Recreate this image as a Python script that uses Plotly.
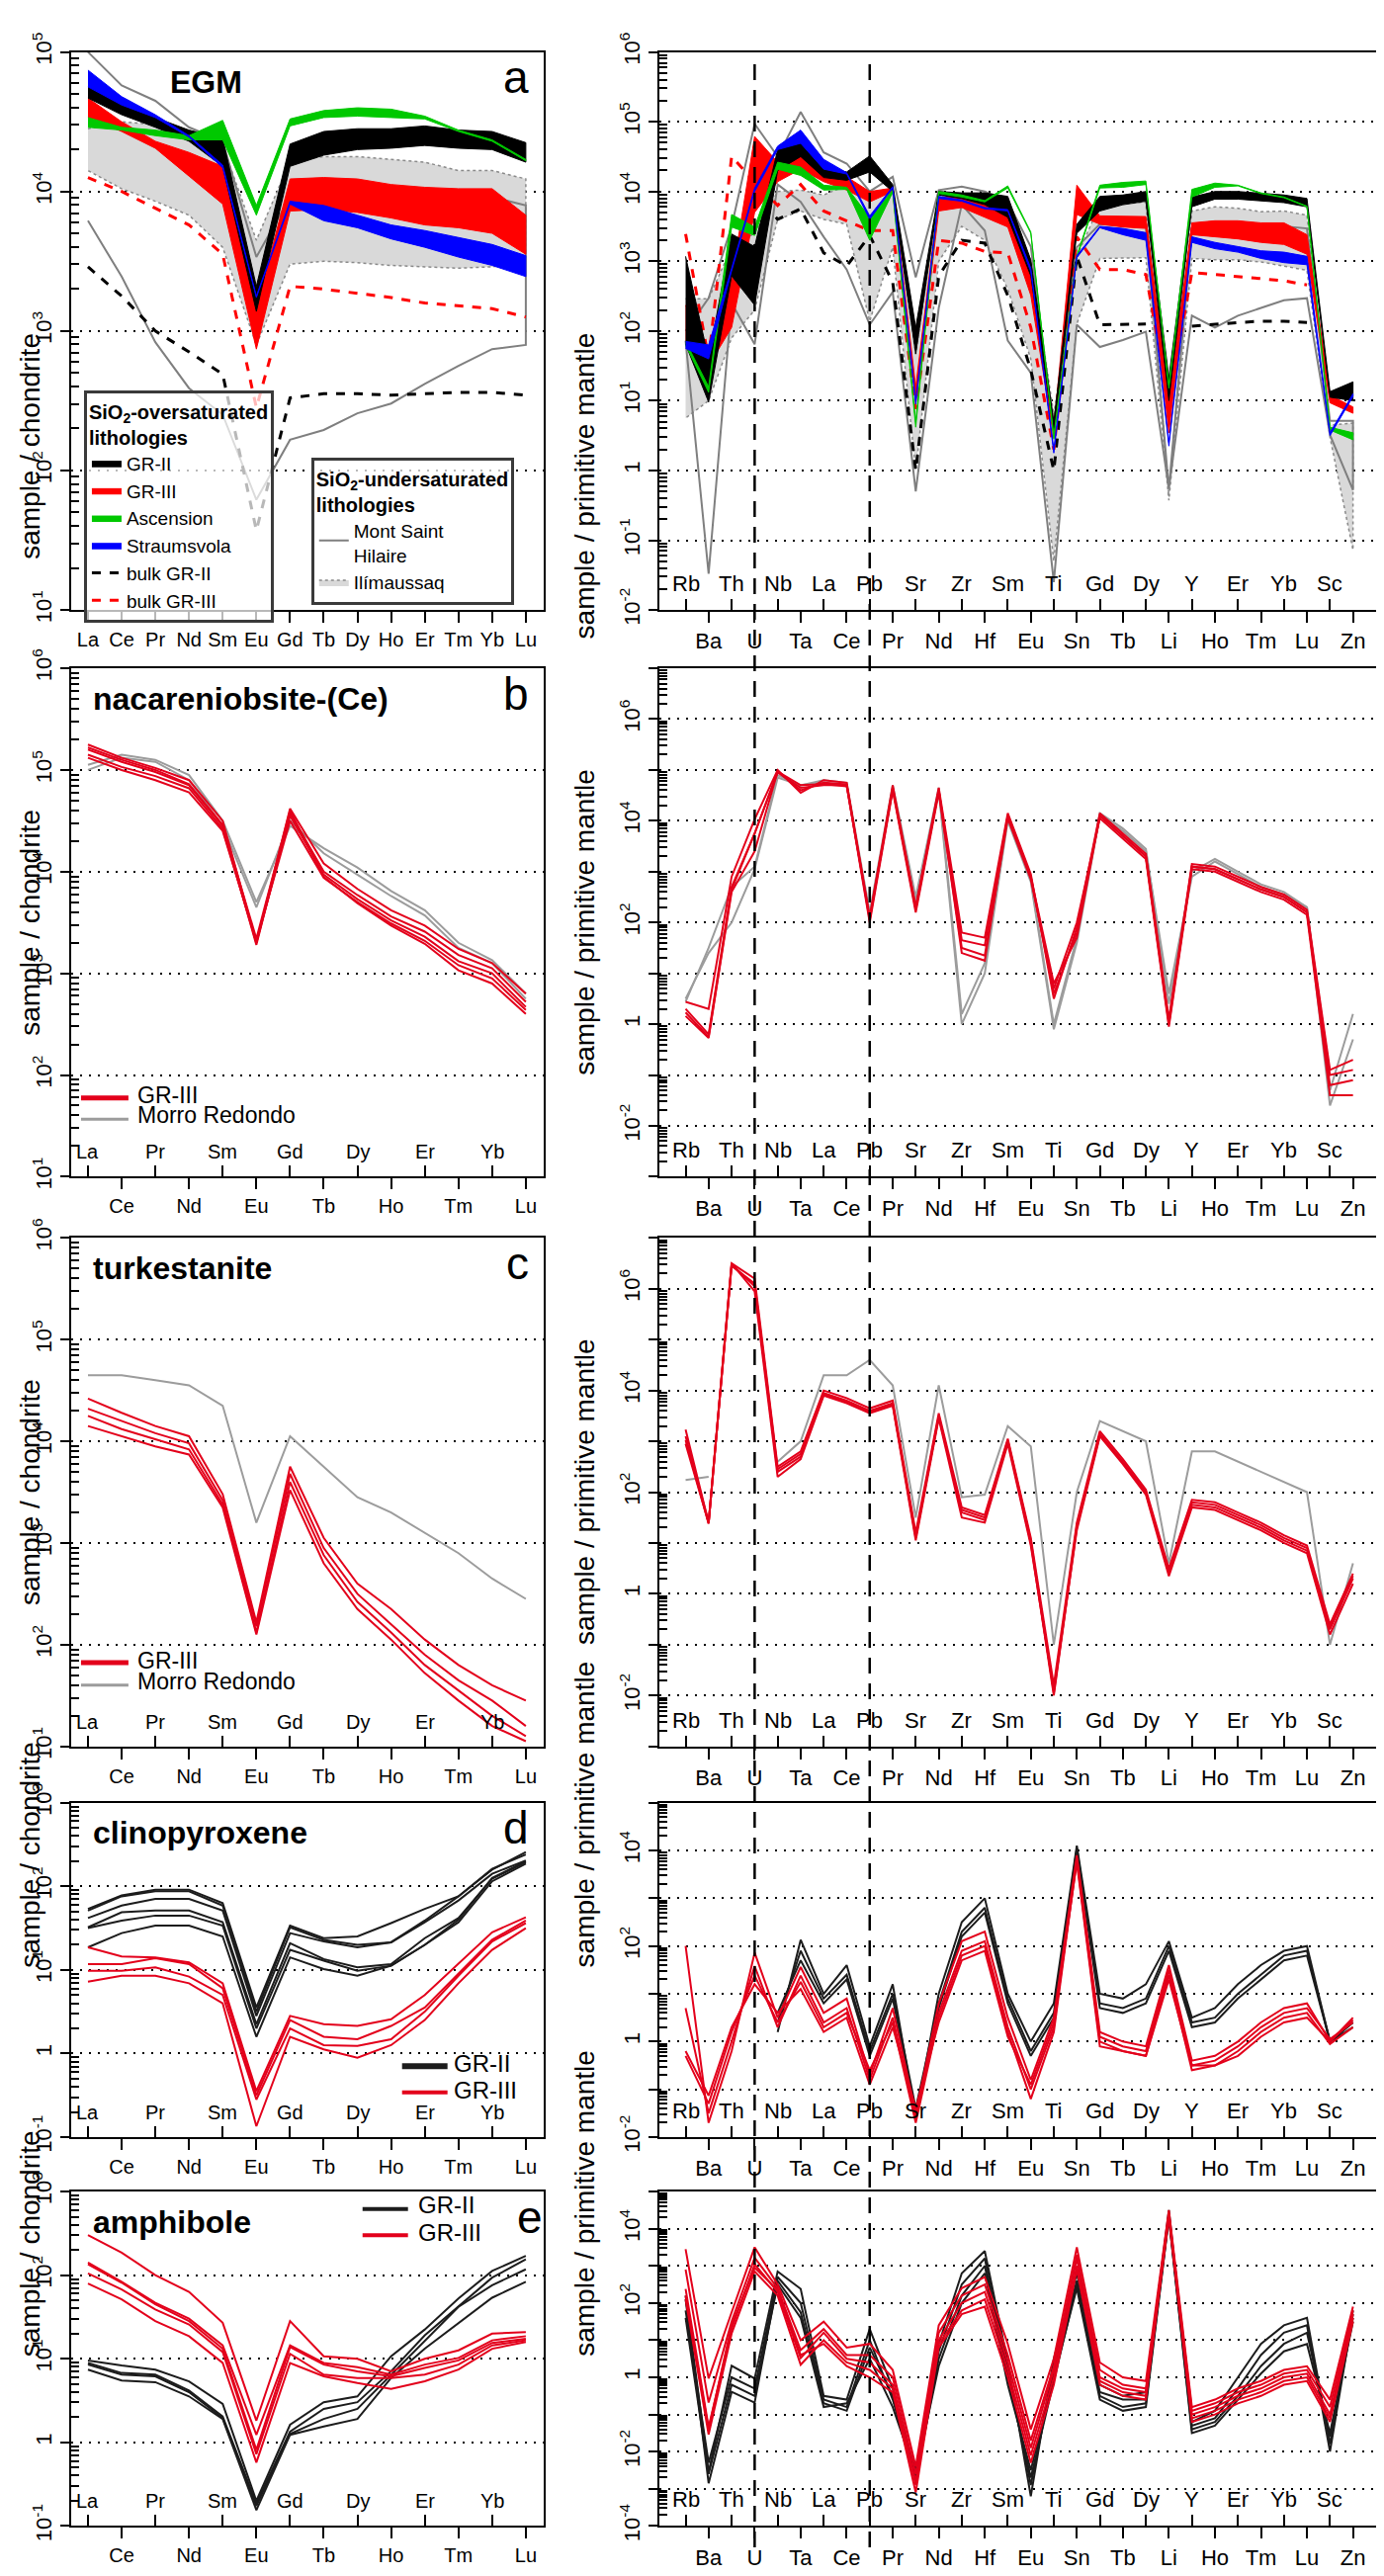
import math
import plotly.graph_objects as go

REE = ["La", "Ce", "Pr", "Nd", "Sm", "Eu", "Gd", "Tb", "Dy", "Ho", "Er", "Tm", "Yb", "Lu"]
SPIDER = ["Rb", "Ba", "Th", "U", "Nb", "Ta", "La", "Ce", "Pb", "Pr", "Sr", "Nd", "Zr", "Hf", "Sm",
          "Eu", "Ti", "Sn", "Gd", "Tb", "Dy", "Li", "Y", "Ho", "Er", "Tm", "Yb", "Lu", "Sc", "Zn"]

# all values below are log10(sample / reference)

# ---- a: EGM, chondrite normalised (upper / lower edge of each field) ----
A_REE_GR2_HI = [4.75, 4.65, 4.53, 4.44, 4.38, 3.32, 4.34, 4.43, 4.45, 4.45, 4.47, 4.44, 4.43, 4.35]
A_REE_GR2_LO = [4.67, 4.55, 4.46, 4.36, 4.18, 3.14, 4.18, 4.26, 4.30, 4.31, 4.33, 4.31, 4.30, 4.21]
A_REE_GR3_HI = [4.67, 4.50, 4.36, 4.28, 4.18, 3.16, 4.09, 4.10, 4.09, 4.05, 4.03, 4.02, 4.02, 3.83]
A_REE_GR3_LO = [4.53, 4.43, 4.31, 4.11, 3.91, 2.87, 3.86, 3.87, 3.85, 3.81, 3.76, 3.74, 3.70, 3.55]
A_REE_ASC_HI = [4.53, 4.46, 4.44, 4.40, 4.51, 3.90, 4.52, 4.58, 4.60, 4.59, 4.54, 4.44, 4.37, 4.23]
A_REE_ASC_LO = [4.46, 4.44, 4.40, 4.37, 4.37, 3.83, 4.47, 4.53, 4.54, 4.53, 4.52, 4.43, 4.36, 4.22]
A_REE_STR_HI = [4.87, 4.68, 4.55, 4.40, 4.19, 3.25, 3.93, 3.90, 3.83, 3.76, 3.72, 3.67, 3.62, 3.54]
A_REE_STR_LO = [4.75, 4.62, 4.53, 4.39, 4.17, 3.24, 3.91, 3.79, 3.74, 3.66, 3.60, 3.53, 3.47, 3.39]
A_REE_MSH_HI = [5.00, 4.76, 4.65, 4.46, 4.36, 3.53, 3.96, 3.96, 3.94, 3.90, 3.94, 3.95, 3.96, 3.90]
A_REE_MSH_LO = [3.79, 3.39, 2.92, 2.59, 2.40, 1.79, 2.22, 2.29, 2.41, 2.48, 2.62, 2.75, 2.87, 2.90]
A_REE_ILI_HI = [4.45, 4.50, 4.48, 4.42, 4.33, 3.65, 4.22, 4.25, 4.25, 4.23, 4.21, 4.15, 4.15, 4.09]
A_REE_ILI_LO = [4.15, 4.02, 3.93, 3.83, 3.60, 2.90, 3.48, 3.50, 3.49, 3.47, 3.46, 3.45, 3.46, 3.50]
A_REE_BULK2 = [3.46, 3.25, 3.00, 2.85, 2.69, 1.57, 2.52, 2.55, 2.55, 2.54, 2.55, 2.56, 2.56, 2.54]
A_REE_BULK3 = [4.10, 4.00, 3.88, 3.76, 3.55, 2.45, 3.32, 3.30, 3.27, 3.24, 3.20, 3.18, 3.16, 3.10]

# ---- a: EGM, primitive mantle normalised ----
A_SP_GR2_HI = [3.07, 1.60, 3.39, 3.21, 4.60, 4.72, 4.35, 4.28, 4.51, 4.10, 2.05, 4.00, 3.98, 3.98, 3.93,
               3.02, 0.70, 3.53, 3.93, 3.95, 4.00, 1.33, 3.92, 4.00, 4.00, 3.97, 3.95, 3.90, 1.13, 1.27]
A_SP_GR2_LO = [1.81, 0.98, 2.79, 2.37, 4.30, 4.50, 4.20, 4.16, 4.28, 4.00, 1.67, 3.95, 3.90, 3.81, 3.63,
               2.79, 0.56, 3.40, 3.72, 3.81, 3.86, 1.00, 3.78, 3.89, 3.89, 3.86, 3.84, 3.78, 1.05, 1.00]
A_SP_GR3_HI = [2.37, 1.72, 2.74, 4.79, 4.42, 4.67, 4.32, 4.21, 4.00, 4.05, 1.20, 3.91, 3.93, 3.81, 3.77,
               2.79, 0.60, 4.09, 3.65, 3.64, 3.64, 1.00, 3.55, 3.58, 3.58, 3.55, 3.55, 3.38, 1.08, 0.91]
A_SP_GR3_LO = [1.81, 1.50, 2.05, 3.70, 4.14, 4.32, 4.14, 4.02, 3.85, 4.00, 0.95, 3.72, 3.77, 3.63, 3.49,
               2.51, 0.47, 3.67, 3.53, 3.49, 3.47, 0.54, 3.38, 3.35, 3.32, 3.27, 3.24, 3.10, 0.97, 0.82]
A_SP_ASC_HI = [1.85, 1.20, 3.67, 3.49, 4.42, 4.35, 4.09, 4.06, 3.63, 4.02, 0.70, 4.00, 3.95, 3.87, 4.08,
               3.42, 0.50, 3.08, 4.09, 4.13, 4.15, 1.22, 4.03, 4.12, 4.09, 3.98, 3.92, 3.79, 0.62, 0.54]
A_SP_ASC_LO = [1.80, 1.12, 3.49, 3.37, 4.32, 4.23, 4.02, 4.03, 3.30, 3.99, 0.62, 3.97, 3.92, 3.85, 4.05,
               3.40, 0.45, 3.05, 4.05, 4.06, 4.10, 1.18, 3.92, 4.06, 4.08, 3.97, 3.91, 3.78, 0.58, 0.44]
A_SP_STR_HI = [1.85, 1.80, 2.90, 4.05, 4.65, 4.88, 4.46, 4.27, 3.65, 4.07, 1.00, 3.93, 3.88, 3.77, 3.74,
               2.90, 0.30, 3.08, 3.50, 3.47, 3.41, 0.40, 3.35, 3.27, 3.21, 3.15, 3.13, 3.07, 0.54, 1.10]
A_SP_STR_LO = [1.75, 1.60, 2.86, 4.00, 4.60, 4.69, 4.32, 4.25, 3.60, 4.05, 0.95, 3.90, 3.86, 3.75, 3.72,
               2.85, 0.25, 3.05, 3.48, 3.38, 3.30, 0.35, 3.27, 3.18, 3.13, 3.04, 2.98, 2.95, 0.50, 1.06]
A_SP_MSH_HI = [2.00, 2.47, 3.50, 4.97, 4.50, 5.14, 4.56, 4.40, 4.00, 4.21, 2.77, 4.02, 4.07, 4.00, 3.85,
               3.21, 0.60, 3.20, 3.53, 3.51, 3.49, -0.26, 3.44, 3.47, 3.50, 3.50, 3.50, 3.47, 0.71, 0.71]
A_SP_MSH_LO = [1.86, -1.48, 2.40, 1.81, 4.10, 3.85, 3.35, 2.88, 2.09, 2.56, -0.30, 2.33, 3.81, 3.44, 1.86,
               1.40, -1.60, 2.09, 1.77, 1.87, 1.99, -0.26, 2.22, 2.05, 2.22, 2.33, 2.44, 2.47, 0.51, -0.28]
A_SP_ILI_HI = [2.46, 2.46, 3.20, 3.40, 4.00, 4.02, 3.95, 4.09, 3.90, 4.00, 1.67, 3.95, 3.81, 3.75, 3.60,
               3.00, 0.80, 3.07, 3.81, 3.82, 3.85, -0.37, 3.72, 3.78, 3.76, 3.71, 3.72, 3.66, 0.65, 0.68]
A_SP_ILI_LO = [0.75, 1.00, 1.90, 2.30, 3.60, 3.72, 3.60, 3.53, 2.14, 3.20, 0.00, 3.00, 3.50, 3.30, 2.60,
               1.60, -1.30, 2.10, 3.04, 3.05, 3.05, -0.43, 3.04, 3.02, 3.02, 2.99, 2.93, 2.87, 0.48, -1.14]
A_SP_BULK2 = [None, None, 3.00, 4.00, 3.60, 3.75, 3.12, 2.93, 3.37, 2.70, 0.00, 2.79, 3.30, 3.26, 2.51,
              1.44, 0.00, 3.07, 2.09, 2.10, 2.10, None, 2.07, 2.10, 2.12, 2.14, 2.14, 2.12, None, None]
A_SP_BULK3 = [3.39, 1.60, 4.50, 4.14, 3.80, 4.10, 3.72, 3.58, 3.44, 3.44, 0.88, 3.30, 3.26, 3.14, 3.12,
              2.05, 0.30, 3.35, 2.88, 2.88, 2.81, 1.00, 2.84, 2.81, 2.78, 2.75, 2.72, 2.66, None, None]

# ---- b: nacareniobsite-(Ce) ----
B_REE_GR3 = [
    [5.25, 5.12, 5.02, 4.90, 4.50, 3.30, 4.62, 4.08, 3.83, 3.62, 3.47, 3.24, 3.10, 2.80],
    [5.20, 5.08, 4.98, 4.85, 4.45, 3.28, 4.58, 4.00, 3.77, 3.56, 3.41, 3.18, 3.05, 2.72],
    [5.15, 5.03, 4.94, 4.82, 4.42, 3.30, 4.55, 3.97, 3.73, 3.52, 3.36, 3.12, 3.00, 2.67],
    [5.12, 5.00, 4.90, 4.78, 4.40, 3.32, 4.50, 3.94, 3.70, 3.49, 3.32, 3.08, 2.95, 2.64],
    [5.22, 5.10, 5.00, 4.86, 4.46, 3.34, 4.60, 3.95, 3.69, 3.47, 3.29, 3.03, 2.90, 2.60],
]
B_REE_MR = [
    [5.05, 5.15, 5.10, 4.95, 4.50, 3.70, 4.45, 4.23, 4.04, 3.81, 3.62, 3.30, 3.13, 2.80],
    [5.00, 5.12, 5.08, 4.90, 4.45, 3.65, 4.50, 4.18, 3.97, 3.76, 3.57, 3.25, 3.10, 2.75],
]
B_SP_GR3 = [
    [0.44, 0.30, 2.90, 4.03, 5.00, 4.55, 4.80, 4.75, 2.10, 4.70, 2.30, 4.65, 1.80, 1.70, 4.15,
     2.95, 0.50, 1.90, 4.15, 3.75, 3.35, 0.10, 3.15, 3.10, 2.90, 2.70, 2.55, 2.25, -0.90, -0.70],
    [0.30, -0.20, 2.70, 3.75, 4.97, 4.60, 4.75, 4.72, 2.05, 4.65, 2.25, 4.60, 1.65, 1.55, 4.10,
     2.90, 0.60, 1.80, 4.10, 3.70, 3.30, 0.00, 3.10, 3.05, 2.85, 2.65, 2.50, 2.20, -1.20, -1.10],
    [0.23, -0.25, 2.65, 3.75, 4.95, 4.65, 4.70, 4.70, 2.00, 4.60, 2.20, 4.55, 1.50, 1.35, 4.05,
     2.85, 0.70, 2.00, 4.05, 3.65, 3.25, -0.05, 3.05, 3.00, 2.80, 2.60, 2.45, 2.15, -1.40, -1.40],
    [0.16, -0.27, 2.60, 3.40, 4.97, 4.70, 4.72, 4.68, 2.10, 4.62, 2.30, 4.60, 1.40, 1.25, 4.10,
     2.90, 0.80, 1.70, 4.10, 3.70, 3.30, 0.05, 3.10, 3.05, 2.85, 2.65, 2.50, 2.20, -1.00, -0.90],
]
B_SP_MR = [
    [0.44, 1.50, 2.70, 3.10, 4.90, 4.70, 4.75, 4.70, 2.10, 4.65, 2.40, 4.60, 0.00, 1.00, 4.00,
     2.80, -0.10, 1.60, 4.10, 3.80, 3.40, 0.60, 2.90, 3.20, 2.95, 2.70, 2.55, 2.30, -1.30, 0.20],
    [0.50, 1.40, 2.00, 3.05, 4.85, 4.70, 4.80, 4.75, 2.20, 4.70, 2.50, 4.65, 0.20, 1.20, 4.05,
     2.85, 0.00, 1.70, 4.15, 3.85, 3.45, 0.40, 3.00, 3.25, 3.00, 2.75, 2.60, 2.30, -1.60, -0.30],
]

# ---- c: turkestanite ----
C_REE_GR3 = [
    [4.42, 4.28, 4.15, 4.05, 3.48, 2.22, 3.75, 3.05, 2.60, 2.35, 2.05, 1.80, 1.60, 1.45],
    [4.32, 4.20, 4.08, 3.98, 3.42, 2.18, 3.68, 2.95, 2.50, 2.20, 1.90, 1.65, 1.45, 1.20],
    [4.25, 4.12, 4.02, 3.92, 3.38, 2.12, 3.60, 2.88, 2.42, 2.12, 1.80, 1.55, 1.30, 1.10],
    [4.15, 4.05, 3.95, 3.87, 3.35, 2.10, 3.52, 2.80, 2.35, 2.05, 1.72, 1.45, 1.20, 1.05],
]
C_REE_MR = [4.65, 4.65, 4.60, 4.55, 4.35, 3.20, 4.05, 3.75, 3.45, 3.30, 3.10, 2.90, 2.65, 2.45]
C_SP_GR3 = [
    [3.23, 1.40, 6.50, 6.20, 2.50, 2.80, 4.00, 3.85, 3.65, 3.80, 1.20, 3.55, 1.70, 1.55, 3.05,
     1.10, -1.80, 1.40, 3.20, 2.65, 2.05, 0.50, 1.85, 1.80, 1.60, 1.40, 1.15, 0.95, -0.60, 0.40],
    [3.02, 1.38, 6.48, 6.05, 2.40, 2.70, 3.95, 3.80, 3.60, 3.75, 1.10, 3.50, 1.60, 1.45, 3.00,
     1.00, -2.00, 1.30, 3.15, 2.60, 2.00, 0.40, 1.80, 1.75, 1.55, 1.35, 1.10, 0.90, -0.70, 0.30],
    [2.95, 1.39, 6.50, 5.95, 2.30, 2.65, 3.90, 3.75, 3.55, 3.70, 1.05, 3.45, 1.50, 1.40, 2.95,
     0.95, -1.90, 1.25, 3.10, 2.55, 1.95, 0.35, 1.70, 1.65, 1.45, 1.25, 1.00, 0.80, -0.80, 0.20],
    [3.10, 1.40, 6.45, 6.10, 2.45, 2.75, 3.92, 3.78, 3.58, 3.72, 1.15, 3.48, 1.65, 1.50, 3.02,
     1.05, -1.95, 1.35, 3.12, 2.58, 1.98, 0.45, 1.75, 1.70, 1.50, 1.30, 1.05, 0.85, -0.65, 0.35],
]
C_SP_MR = [2.24, 2.30, None, None, 2.60, 3.00, 4.30, 4.30, 4.60, 4.10, 1.50, 4.10, 1.90, 1.95, 3.30,
           2.90, -1.00, 2.00, 3.40, 3.20, 3.00, 0.60, 2.80, 2.80, 2.60, 2.40, 2.20, 2.00, -1.00, 0.60]

# ---- d: clinopyroxene ----
D_REE_GR2 = [
    [1.73, 1.89, 1.96, 1.96, 1.80, 0.55, 1.53, 1.38, 1.40, 1.56, 1.73, 1.88, 2.20, 2.41],
    [1.71, 1.88, 1.94, 1.94, 1.77, 0.50, 1.51, 1.36, 1.30, 1.33, 1.59, 1.88, 2.21, 2.38],
    [1.62, 1.77, 1.85, 1.85, 1.71, 0.45, 1.44, 1.34, 1.27, 1.33, 1.57, 1.83, 2.15, 2.31],
    [1.51, 1.69, 1.71, 1.71, 1.57, 0.35, 1.32, 1.13, 1.03, 1.07, 1.38, 1.62, 2.09, 2.29],
    [1.50, 1.59, 1.65, 1.65, 1.53, 0.30, 1.24, 1.11, 0.99, 1.05, 1.30, 1.57, 2.06, 2.27],
    [1.27, 1.44, 1.53, 1.53, 1.40, 0.20, 1.15, 1.01, 0.93, 1.05, 1.30, 1.60, 2.10, 2.30],
]
D_REE_GR3 = [
    [1.27, 1.16, 1.15, 1.09, 0.84, -0.45, 0.45, 0.35, 0.33, 0.41, 0.70, 1.07, 1.45, 1.63],
    [1.07, 1.07, 1.14, 1.07, 0.78, -0.50, 0.40, 0.20, 0.17, 0.33, 0.55, 0.95, 1.36, 1.59],
    [0.99, 0.99, 1.03, 0.92, 0.70, -0.55, 0.30, 0.10, 0.09, 0.17, 0.50, 0.93, 1.34, 1.56],
    [0.86, 0.93, 0.93, 0.84, 0.60, -0.87, 0.20, 0.05, -0.05, 0.10, 0.40, 0.84, 1.24, 1.50],
]
D_SP_GR2 = [
    [None, None, None, None, 0.20, 2.13, 1.00, 1.60, -0.10, 1.20, -1.60, 1.00, 2.50, 3.00, 1.00,
     0.00, 0.80, 4.10, 1.00, 0.90, 1.20, 2.10, 0.50, 0.70, 1.20, 1.60, 1.90, 2.00, 0.00, 0.40],
    [None, None, None, None, 0.40, 1.90, 0.90, 1.40, -0.20, 1.00, -1.40, 0.80, 2.30, 2.80, 0.90,
     -0.20, 0.60, 4.05, 0.80, 0.70, 0.90, 2.00, 0.40, 0.50, 1.00, 1.40, 1.80, 1.90, 0.00, 0.30],
    [None, None, None, None, 0.60, 1.70, 0.80, 1.30, -0.30, 0.90, -1.50, 0.70, 2.20, 2.70, 0.80,
     -0.30, 0.50, 4.00, 0.70, 0.60, 0.80, 1.90, 0.30, 0.40, 0.90, 1.30, 1.70, 1.80, 0.00, 0.40],
]
D_SP_GR3 = [
    [2.00, -1.70, -0.20, 1.86, 0.50, 1.56, 0.60, 0.90, -0.70, 0.70, -1.50, 0.80, 2.10, 2.30, 0.50,
     -0.80, 0.50, 3.90, 0.20, 0.00, -0.10, 1.60, -0.40, -0.30, 0.00, 0.40, 0.70, 0.80, 0.00, 0.50],
    [0.70, -1.50, 0.00, 1.58, 0.30, 1.38, 0.40, 0.70, -0.80, 0.50, -1.60, 0.60, 1.90, 2.10, 0.30,
     -1.00, 0.30, 3.85, 0.10, -0.10, -0.20, 1.50, -0.50, -0.40, -0.10, 0.30, 0.60, 0.70, 0.05, 0.40],
    [-0.30, -1.30, 0.20, 1.38, 0.40, 1.25, 0.30, 0.60, -0.60, 0.40, -1.70, 0.50, 1.80, 2.00, 0.20,
     -1.20, 0.20, 3.80, 0.00, -0.20, -0.30, 1.40, -0.60, -0.50, -0.20, 0.20, 0.50, 0.60, -0.05, 0.30],
    [-0.20, -1.13, 0.30, 1.20, 0.60, 1.10, 0.20, 0.50, -0.90, 0.30, -1.40, 0.40, 1.70, 1.90, 0.10,
     -0.90, 0.40, 3.75, -0.10, -0.20, -0.30, 1.30, -0.50, -0.50, -0.30, 0.10, 0.40, 0.50, 0.00, 0.45],
]

# ---- e: amphibole ----
E_REE_GR2 = [
    [0.98, 0.92, 0.87, 0.73, 0.46, -0.70, 0.21, 0.48, 0.55, 1.03, 1.35, 1.72, 2.05, 2.23],
    [0.95, 0.83, 0.81, 0.62, 0.31, -0.73, 0.13, 0.40, 0.48, 0.85, 1.28, 1.62, 1.97, 2.19],
    [0.93, 0.81, 0.79, 0.60, 0.29, -0.76, 0.10, 0.28, 0.40, 0.81, 1.22, 1.62, 1.88, 2.07],
    [0.87, 0.74, 0.72, 0.55, 0.28, -0.81, 0.09, 0.19, 0.28, 0.77, 1.12, 1.43, 1.73, 1.92],
]
E_REE_GR3 = [
    [2.48, 2.27, 2.00, 1.80, 1.43, 0.26, 1.45, 1.03, 1.00, 0.85, 1.00, 1.10, 1.30, 1.32],
    [2.15, 1.92, 1.67, 1.48, 1.16, 0.09, 1.16, 0.95, 0.90, 0.81, 0.93, 1.01, 1.22, 1.27],
    [2.13, 1.91, 1.65, 1.45, 1.12, -0.09, 1.14, 0.93, 0.85, 0.79, 0.89, 0.98, 1.19, 1.24],
    [2.02, 1.83, 1.59, 1.41, 1.08, -0.14, 1.06, 0.81, 0.77, 0.77, 0.81, 0.93, 1.16, 1.22],
    [1.90, 1.71, 1.45, 1.27, 0.95, -0.24, 0.95, 0.79, 0.71, 0.64, 0.73, 0.87, 1.12, 1.20],
]
E_SP_GR2 = [
    [2.20, -2.55, 0.31, -0.03, 2.85, 2.38, -0.50, -0.60, 1.30, -0.30, -2.70, 0.90, 2.80, 3.40, 0.40,
     -3.20, 0.50, 2.80, -0.20, -0.50, -0.40, 4.50, -1.20, -0.90, 0.00, 0.90, 1.40, 1.60, -1.80, 1.80],
    [2.10, -2.85, -0.39, -0.68, 2.60, 1.75, -0.70, -0.90, 0.80, -0.50, -2.50, 0.70, 2.50, 3.20, 0.20,
     -2.90, 0.20, 2.60, -0.40, -0.60, -0.60, 4.40, -1.30, -1.10, -0.30, 0.60, 1.20, 1.40, -2.00, 1.70],
    [1.80, -2.30, 0.00, -0.30, 2.70, 2.00, -0.60, -0.80, 1.00, -0.60, -2.80, 0.50, 2.20, 3.00, 0.00,
     -2.70, -0.10, 2.50, -0.50, -0.80, -0.70, 4.30, -1.40, -1.20, -0.50, 0.30, 0.90, 1.20, -1.60, 1.60],
    [1.60, -2.60, -0.20, -0.50, 2.50, 1.60, -0.80, -0.70, 0.50, -0.80, -2.60, 0.30, 2.00, 2.80, -0.20,
     -2.50, 0.00, 2.40, -0.60, -0.90, -0.80, 4.30, -1.50, -1.30, -0.60, 0.10, 0.70, 0.90, -1.50, 1.50],
]
E_SP_GR3 = [
    [3.45, -0.03, 1.75, 3.50, 2.50, 1.00, 1.50, 0.80, 0.90, 0.20, -2.40, 1.40, 2.40, 2.70, 0.90,
     -1.40, 0.50, 3.50, 0.40, 0.00, -0.10, 4.50, -0.80, -0.60, -0.30, -0.10, 0.20, 0.30, -0.60, 1.90],
    [2.90, -0.68, 1.50, 3.22, 2.40, 0.73, 1.30, 0.60, 0.60, 0.00, -2.60, 1.20, 2.20, 2.50, 0.60,
     -1.70, 0.30, 3.30, 0.20, -0.20, -0.30, 4.40, -0.90, -0.70, -0.40, -0.20, 0.10, 0.20, -0.80, 1.80],
    [2.38, -1.34, 1.30, 3.04, 2.30, 0.52, 1.20, 0.50, 0.40, -0.20, -2.80, 1.00, 2.00, 2.30, 0.40,
     -1.90, 0.20, 3.20, 0.00, -0.30, -0.40, 4.30, -1.00, -0.80, -0.50, -0.30, 0.00, 0.10, -1.00, 1.70],
    [2.10, -1.54, 1.18, 2.85, 2.20, 0.34, 1.00, 0.40, 0.20, -0.30, -2.90, 0.90, 1.80, 2.10, 0.20,
     -2.10, 0.00, 3.00, -0.10, -0.40, -0.50, 4.35, -1.10, -0.90, -0.60, -0.40, -0.10, 0.00, -1.10, 1.60],
    [2.20, -1.40, 1.40, 2.95, 2.35, 0.60, 0.90, 0.30, 0.00, -0.40, -3.10, 0.80, 1.70, 1.90, 0.00,
     -2.30, -0.20, 2.90, -0.20, -0.50, -0.60, 4.40, -1.20, -1.00, -0.70, -0.50, -0.20, -0.10, -1.20, 1.50],
]

# ---------------- layout geometry (reference pixels) ----------------
W, H, OFF = 1388, 2592, 8
ROW_TOP = [33, 667, 1253, 1834, 2234]
ROW_BOT = [607, 1190, 1776, 2178, 2578]
COL_X = [(72, 550), (667, 1395)]
LEFT_YR = [(1, 5), (1, 6), (1, 6), (-1, 3), (-1, 3)]
RIGHT_YR = [(-2, 6), (-3, 7), (-3, 7), (-2, 5), (-4, 5)]
X_RANGE = [(-0.5, 13.52), (-1.16, 30.09)]
TITLES = ["EGM", "nacareniobsite-(Ce)", "turkestanite", "clinopyroxene", "amphibole"]
LETTERS = ["a", "b", "c", "d", "e"]
# manual keys: (row, [(label, colour, width, line y, text y)], line x0, line x1, text x, font)
KEYS = [
    (1, [("GR-III", "#e3001b", 5, 1109, 1106), ("Morro Redondo", "#9c9c9c", 3, 1131, 1127)], 82, 130, 137, 23),
    (2, [("GR-III", "#e3001b", 5, 1690, 1688), ("Morro Redondo", "#9c9c9c", 3, 1713, 1709)], 82, 130, 137, 23),
    (3, [("GR-II", "#1c1c1c", 6, 2105, 2102), ("GR-III", "#e3001b", 4, 2132, 2130)], 407, 453, 457, 24),
    (4, [("GR-II", "#1c1c1c", 4, 2252, 2248), ("GR-III", "#e3001b", 4, 2279, 2276)], 367, 413, 421, 24),
]

FONT = "Liberation Sans, Arial, sans-serif"
RED_A, GREEN, BLUE = "#ff0000", "#00c800", "#0000ff"
GREY_FILL, GREY_LINE = "#d9d9d9", "#7f7f7f"
RED, DARK, GREY = "#e3001b", "#1c1c1c", "#9c9c9c"


def px(x):
    return min(1.0, max(0.0, (x - OFF) / W))


def py(y):
    return 1 - (y - OFF) / H


def ax(k):
    return ("x" if k == 1 else f"x{k}"), ("y" if k == 1 else f"y{k}")


def lin(vals):
    return [None if v is None else 10 ** v for v in vals]


fig = go.Figure()


def add_band(k, hi, lo, fill, line, name, legend=None, rank=1000, dash=None, lw=1):
    xn, yn = ax(k)
    idx = list(range(len(hi)))
    fig.add_trace(go.Scatter(
        x=idx + idx[::-1], y=lin(hi) + lin(lo)[::-1], fill="toself", fillcolor=fill,
        mode="lines", line=dict(color=line, width=lw, dash=dash), name=name,
        showlegend=legend is not None, legend=legend or "legend", legendrank=rank,
        xaxis=xn, yaxis=yn, hoverinfo="skip"))


def add_line(k, vals, color, width, name="", dash=None, legend=None, rank=1000):
    xn, yn = ax(k)
    fig.add_trace(go.Scatter(
        x=list(range(len(vals))), y=lin(vals), mode="lines",
        line=dict(color=color, width=width, dash=dash), name=name,
        showlegend=legend is not None, legend=legend or "legend", legendrank=rank,
        xaxis=xn, yaxis=yn, hoverinfo="skip"))


# ---- panel a ----
for k, d in [(1, "REE"), (2, "SP")]:
    g = globals()
    lg = (lambda name: name) if k == 1 else (lambda name: None)
    add_band(k, g[f"A_{d}_ILI_HI"], g[f"A_{d}_ILI_LO"], GREY_FILL, "#8a8a8a", "Ilímaussaq",
             legend=lg("legend2"), rank=2, dash="dot", lw=1.5)
    add_band(k, g[f"A_{d}_MSH_HI"], g[f"A_{d}_MSH_LO"], "rgba(255,255,255,0)", GREY_LINE,
             "Mont Saint<br>Hilaire", legend=lg("legend2"), rank=1, lw=2)
    add_line(k, g[f"A_{d}_BULK2"], "black", 3, "bulk GR-II", dash="dash", legend=lg("legend"), rank=5)
    add_line(k, g[f"A_{d}_BULK3"], RED_A, 3, "bulk GR-III", dash="dash", legend=lg("legend"), rank=6)
    add_band(k, g[f"A_{d}_GR3_HI"], g[f"A_{d}_GR3_LO"], RED_A, RED_A, "GR-III", legend=lg("legend"), rank=2)
    add_band(k, g[f"A_{d}_GR2_HI"], g[f"A_{d}_GR2_LO"], "black", "black", "GR-II", legend=lg("legend"), rank=1)
    add_band(k, g[f"A_{d}_ASC_HI"], g[f"A_{d}_ASC_LO"], GREEN, GREEN, "Ascension", legend=lg("legend"), rank=3)
    add_band(k, g[f"A_{d}_STR_HI"], g[f"A_{d}_STR_LO"], BLUE, BLUE, "Straumsvola", legend=lg("legend"), rank=4)

# ---- panels b - e ----
for v in B_REE_MR:
    add_line(3, v, GREY, 2)
for v in B_REE_GR3:
    add_line(3, v, RED, 2)
for v in B_SP_MR:
    add_line(4, v, GREY, 2)
for v in B_SP_GR3:
    add_line(4, v, RED, 2)

add_line(5, C_REE_MR, GREY, 2)
for v in C_REE_GR3:
    add_line(5, v, RED, 2)
add_line(6, C_SP_MR, GREY, 2)
for v in C_SP_GR3:
    add_line(6, v, RED, 2)

for v in D_REE_GR2:
    add_line(7, v, DARK, 2)
for v in D_REE_GR3:
    add_line(7, v, RED, 2)
for v in D_SP_GR2:
    add_line(8, v, DARK, 2)
for v in D_SP_GR3:
    add_line(8, v, RED, 2)

for v in E_REE_GR2:
    add_line(9, v, DARK, 2)
for v in E_REE_GR3:
    add_line(9, v, RED, 2)
for v in E_SP_GR2:
    add_line(10, v, DARK, 2)
for v in E_SP_GR3:
    add_line(10, v, RED, 2)

# ---------------- axes, labels, shapes ----------------
layout = {}
annotations = []
shapes = []
for row in range(5):
    top, bot = ROW_TOP[row], ROW_BOT[row]
    for col in range(2):
        k = 2 * row + col + 1
        xn, yn = ax(k)
        labels = REE if col == 0 else SPIDER
        xfont = 20 if col == 0 else 22
        lo, hi = (LEFT_YR if col == 0 else RIGHT_YR)[row]
        decs = list(range(math.ceil(lo), math.floor(hi) + 1))
        every_other = col == 1 and row > 0

        def dec_label(d):
            if every_other and d % 2:
                return ""
            return "1" if d == 0 else f"10<sup>{d}</sup>"

        minor_vals = [m * 10 ** d for d in range(math.floor(lo), math.ceil(hi))
                      for m in range(2, 10) if lo <= math.log10(m * 10 ** d) <= hi]
        if row == 0 and col == 0:
            lower, upper = list(range(len(labels))), []
        else:
            lower = list(range(1, len(labels), 2))
            upper = list(range(0, len(labels), 2))
        x0, x1 = COL_X[col]
        xaxis = dict(
            range=list(X_RANGE[col]), domain=[px(x0), px(x1)], anchor=yn,
            tickmode="array", tickvals=lower, ticktext=[labels[i] for i in lower],
            ticks="outside", ticklen=11, tickwidth=2, tickcolor="black",
            showline=True, linewidth=2, linecolor="black", mirror=True,
            showgrid=False, zeroline=False, tickfont=dict(size=xfont, color="black"))
        if upper:
            xaxis["minor"] = dict(tickmode="array", tickvals=upper, ticks="inside",
                                  ticklen=11, tickwidth=2, tickcolor="black", showgrid=False)
        yaxis = dict(
            type="log", range=[lo, hi], domain=[py(bot), py(top)], anchor=xn,
            tickmode="array", tickvals=[10 ** d for d in decs],
            ticktext=[dec_label(d) for d in decs],
            tickangle=-90, ticks="outside", ticklen=9, tickwidth=2, tickcolor="black",
            showline=True, linewidth=2, linecolor="black", mirror=True,
            showgrid=True, gridcolor="black", griddash="2px,7px", gridwidth=1.5,
            zeroline=False, tickfont=dict(size=22, color="black"),
            minor=dict(tickmode="array", tickvals=minor_vals, ticks="inside", ticklen=8,
                       tickwidth=1.5, tickcolor="black", showgrid=False))
        layout["xaxis" if k == 1 else f"xaxis{k}"] = xaxis
        layout["yaxis" if k == 1 else f"yaxis{k}"] = yaxis

        for i in upper:
            annotations.append(dict(x=i, xref=xn, y=0, yref=f"{yn} domain", yanchor="bottom",
                                    yshift=12, text=labels[i], showarrow=False,
                                    font=dict(size=xfont, color="black")))
        if lo < 0 < hi:
            shapes.append(dict(type="line", xref=f"{xn} domain", x0=0, x1=1, yref=yn, y0=0, y1=0,
                               line=dict(color="black", width=1.5)))

    mid = (top + bot) / 2
    annotations.append(dict(x=px(13), y=py(mid), xref="paper", yref="paper", text="sample / chondrite",
                            textangle=-90, showarrow=False, font=dict(size=28, color="black")))
    annotations.append(dict(x=px(592), y=py(mid), xref="paper", yref="paper",
                            text="sample / primitive mantle", textangle=-90, showarrow=False,
                            font=dict(size=28, color="black")))
    tx = 170 if row == 0 else 92
    annotations.append(dict(x=px(tx), y=py(top + 31), xref="paper", yref="paper", xanchor="left",
                            yanchor="middle", text=f"<b>{TITLES[row]}</b>", showarrow=False,
                            font=dict(size=32, color="black")))
    lx = 551 if row == 4 else 537
    annotations.append(dict(x=px(lx), y=py(top + 26), xref="paper", yref="paper", xanchor="right",
                            yanchor="middle", text=LETTERS[row], showarrow=False,
                            font=dict(size=46, color="black")))

for el in ["U", "Pb"]:
    i = SPIDER.index(el)
    shapes.append(dict(type="line", xref="x2", x0=i, x1=i, yref="paper", y0=py(2600), y1=py(42),
                       line=dict(color="black", width=2.5, dash="16px,10px")))

# keys for panels b - e
for row, entries, lx0, lx1, tx, fsize in KEYS:
    for label, colour, width, ly, ty in entries:
        shapes.append(dict(type="line", xref="paper", yref="paper", x0=px(lx0), x1=px(lx1),
                           y0=py(ly), y1=py(ly), line=dict(color=colour, width=width)))
        annotations.append(dict(x=px(tx), y=py(ty), xref="paper", yref="paper", xanchor="left",
                                yanchor="middle", text=label, showarrow=False,
                                font=dict(size=fsize, color="black")))

boxed = dict(bgcolor="rgba(255,255,255,0.72)", bordercolor="#3a3a3a", borderwidth=3,
             font=dict(size=19, color="black"), xanchor="left", yanchor="top", tracegroupgap=0)

fig.update_layout(
    width=W, height=H, autosize=False,
    margin=dict(l=0, r=0, t=0, b=0),
    paper_bgcolor="white", plot_bgcolor="white",
    font=dict(family=FONT, color="black"),
    showlegend=True, hovermode=False,
    annotations=annotations, shapes=shapes,
    legend=dict(boxed, x=px(85), y=py(381),
                title=dict(text="<b>SiO<sub>2</sub>-oversaturated<br>lithologies</b>", font=dict(size=20))),
    legend2=dict(boxed, x=px(315), y=py(450),
                 title=dict(text="<b>SiO<sub>2</sub>-undersaturated<br>lithologies</b>", font=dict(size=20))),
    **layout,
)

fig.write_html("out.html")
